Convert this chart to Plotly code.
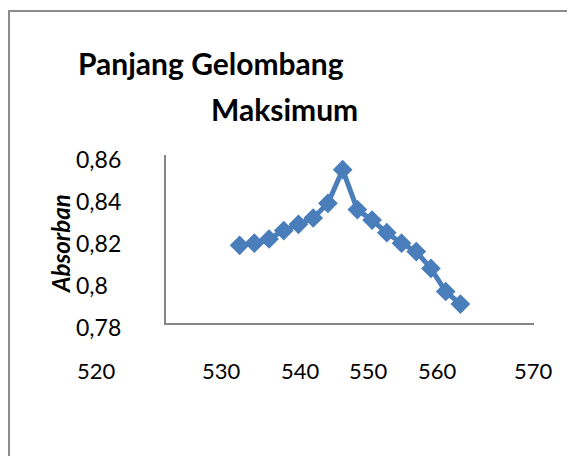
import plotly.graph_objects as go

# ---- data ----
wavelength = [530, 532, 534, 536, 538, 540, 542, 544, 546, 548, 550, 552, 554, 556, 558, 560]
absorbance = [0.817, 0.818, 0.820, 0.824, 0.827, 0.830, 0.837, 0.853,
              0.834, 0.829, 0.823, 0.818, 0.814, 0.806, 0.795, 0.789]
title_lines = ["Panjang Gelombang", "Maksimum"]
y_title = "Absorban"
x_tick_labels = ["520", "530", "540", "550", "560", "570"]
y_tick_values = [0.86, 0.84, 0.82, 0.80, 0.78]
y_tick_labels = ["0,86", "0,84", "0,82", "0,8", "0,78"]

# ---- layout geometry (window pixels; page body has an 8px margin) ----
OFF = 8
WIN_W, WIN_H = 575, 456
W, H = WIN_W - OFF, WIN_H - OFF
L, R, T, B = 166, 534, 155, 323


def px(xp):
    return (xp - L) / (R - L)


def py(yp):
    return (B - yp) / (B - T)


x_label_px = [96, 221, 300, 368, 437, 533]
FONT = "Lato, 'Open Sans', Arial, sans-serif"
COLOR = "#4a7ebb"

fig = go.Figure()
fig.add_trace(go.Scatter(
    x=wavelength, y=absorbance, mode="lines+markers",
    line=dict(color=COLOR, width=5),
    marker=dict(symbol="diamond", size=13, color=COLOR,
                line=dict(color=COLOR, width=2)),
    showlegend=False, hoverinfo="x+y",
))

annotations = []
annotations.append(dict(text="<b>%s</b>" % title_lines[0], xref="paper", yref="paper",
                        x=px(76), y=py(63), xanchor="left", yanchor="middle",
                        showarrow=False, font=dict(family=FONT, size=30, color="black")))
annotations.append(dict(text="<b>%s</b>" % title_lines[1], xref="paper", yref="paper",
                        x=px(209), y=py(109), xanchor="left", yanchor="middle",
                        showarrow=False, font=dict(family=FONT, size=30, color="black")))
annotations.append(dict(text="<b><i>%s</i></b>" % y_title, xref="paper", yref="paper",
                        x=px(60), y=py(244), xanchor="center", yanchor="middle",
                        textangle=-90, showarrow=False,
                        font=dict(family=FONT, size=24, color="black")))
for v, t in zip(y_tick_values, y_tick_labels):
    annotations.append(dict(text=t, xref="paper", yref="y", x=px(74), y=v,
                            yshift=-4, xanchor="left", yanchor="middle",
                            showarrow=False, font=dict(family=FONT, size=23, color="black")))
for xp, t in zip(x_label_px, x_tick_labels):
    annotations.append(dict(text=t, xref="paper", yref="paper", x=px(xp), y=py(370),
                            xanchor="center", yanchor="middle", showarrow=False,
                            font=dict(family=FONT, size=22, color="black")))

border = "#8c8c8c"
shapes = [
    dict(type="line", xref="paper", yref="paper", x0=px(8), x1=px(WIN_W + 20),
         y0=py(11), y1=py(11), line=dict(color=border, width=2)),
    dict(type="line", xref="paper", yref="paper", x0=px(9), x1=px(9),
         y0=py(11), y1=py(WIN_H + 20), line=dict(color=border, width=2)),
]

fig.update_layout(
    width=W, height=H,
    margin=dict(l=L - OFF, r=WIN_W - R, t=T - OFF, b=WIN_H - B, pad=0),
    paper_bgcolor="white", plot_bgcolor="white",
    xaxis=dict(range=[520, 570], showgrid=False, zeroline=False,
               showline=True, linecolor="#868686", linewidth=1.5,
               showticklabels=False, ticks="", fixedrange=True),
    yaxis=dict(range=[0.78, 0.86], showgrid=False, zeroline=False,
               showline=True, linecolor="#868686", linewidth=1.5,
               showticklabels=False, ticks="", fixedrange=True),
    annotations=annotations, shapes=shapes,
)

fig.write_html("out.html")
